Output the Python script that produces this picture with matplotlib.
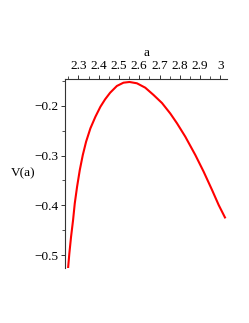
import matplotlib
matplotlib.use('Agg')
import matplotlib.pyplot as plt
from matplotlib.ticker import MultipleLocator

a = [2.2491, 2.2555, 2.2639, 2.2738, 2.2822, 2.2936, 2.3069, 2.3217, 2.3380,
     2.3593, 2.3840, 2.4087, 2.4319, 2.4566, 2.4897, 2.5223, 2.5520, 2.5885,
     2.6295, 2.6706, 2.7121, 2.7531, 2.7862, 2.8272, 2.8766, 2.9176, 2.9591,
     2.9917, 3.0248]
V = [-0.5267, -0.4966, -0.4632, -0.4297, -0.3961, -0.3627, -0.3292, -0.2991,
     -0.2723, -0.2454, -0.2221, -0.2020, -0.1871, -0.1739, -0.1604, -0.1538,
     -0.1524, -0.1550, -0.1638, -0.1785, -0.1946, -0.2157, -0.2354, -0.2623,
     -0.2991, -0.3326, -0.3694, -0.3995, -0.4262]

xticks = [2.3, 2.4, 2.5, 2.6, 2.7, 2.8, 2.9, 3.0]
xlabels = ['2.3', '2.4', '2.5', '2.6', '2.7', '2.8', '2.9', '3']
yticks = [-0.2, -0.3, -0.4, -0.5]
ylabels = ['\u22120.2', '\u22120.3', '\u22120.4', '\u22120.5']

plt.rcParams['font.family'] = ['Liberation Serif', 'DejaVu Serif']

fig = plt.figure(figsize=(2.49, 3.23), dpi=100)
ax = fig.add_axes([0.261, 0.170, 0.651, 0.5845])
ax.plot(a, V, color='#ff0000', lw=1.5, solid_joinstyle='round', solid_capstyle='butt')

ax.set_xlim(2.234, 3.033)
ax.set_ylim(-0.526, -0.147)

ax.spines['right'].set_visible(False)
ax.spines['bottom'].set_visible(False)
for s in ('top', 'left'):
    ax.spines[s].set_linewidth(0.8)
    ax.spines[s].set_color('#333333')

ax.xaxis.set_ticks_position('top')
ax.xaxis.set_label_position('top')
ax.set_xticks(xticks)
ax.set_xticklabels(xlabels)
ax.set_yticks(yticks)
ax.set_yticklabels(ylabels)
ax.xaxis.set_minor_locator(MultipleLocator(0.05))
ax.yaxis.set_minor_locator(MultipleLocator(0.05))
ax.tick_params(which='major', length=3, width=0.7, labelsize=9.5, pad=2, colors='#333333', labelcolor='black')
ax.tick_params(which='minor', length=2, width=0.6, colors='#333333')

ax.set_xlabel('a', fontsize=9.5, labelpad=3)
ax.set_ylabel('V(a)', fontsize=9.5, rotation=0, labelpad=8, va='center')

fig.savefig('out.png', dpi=100)
